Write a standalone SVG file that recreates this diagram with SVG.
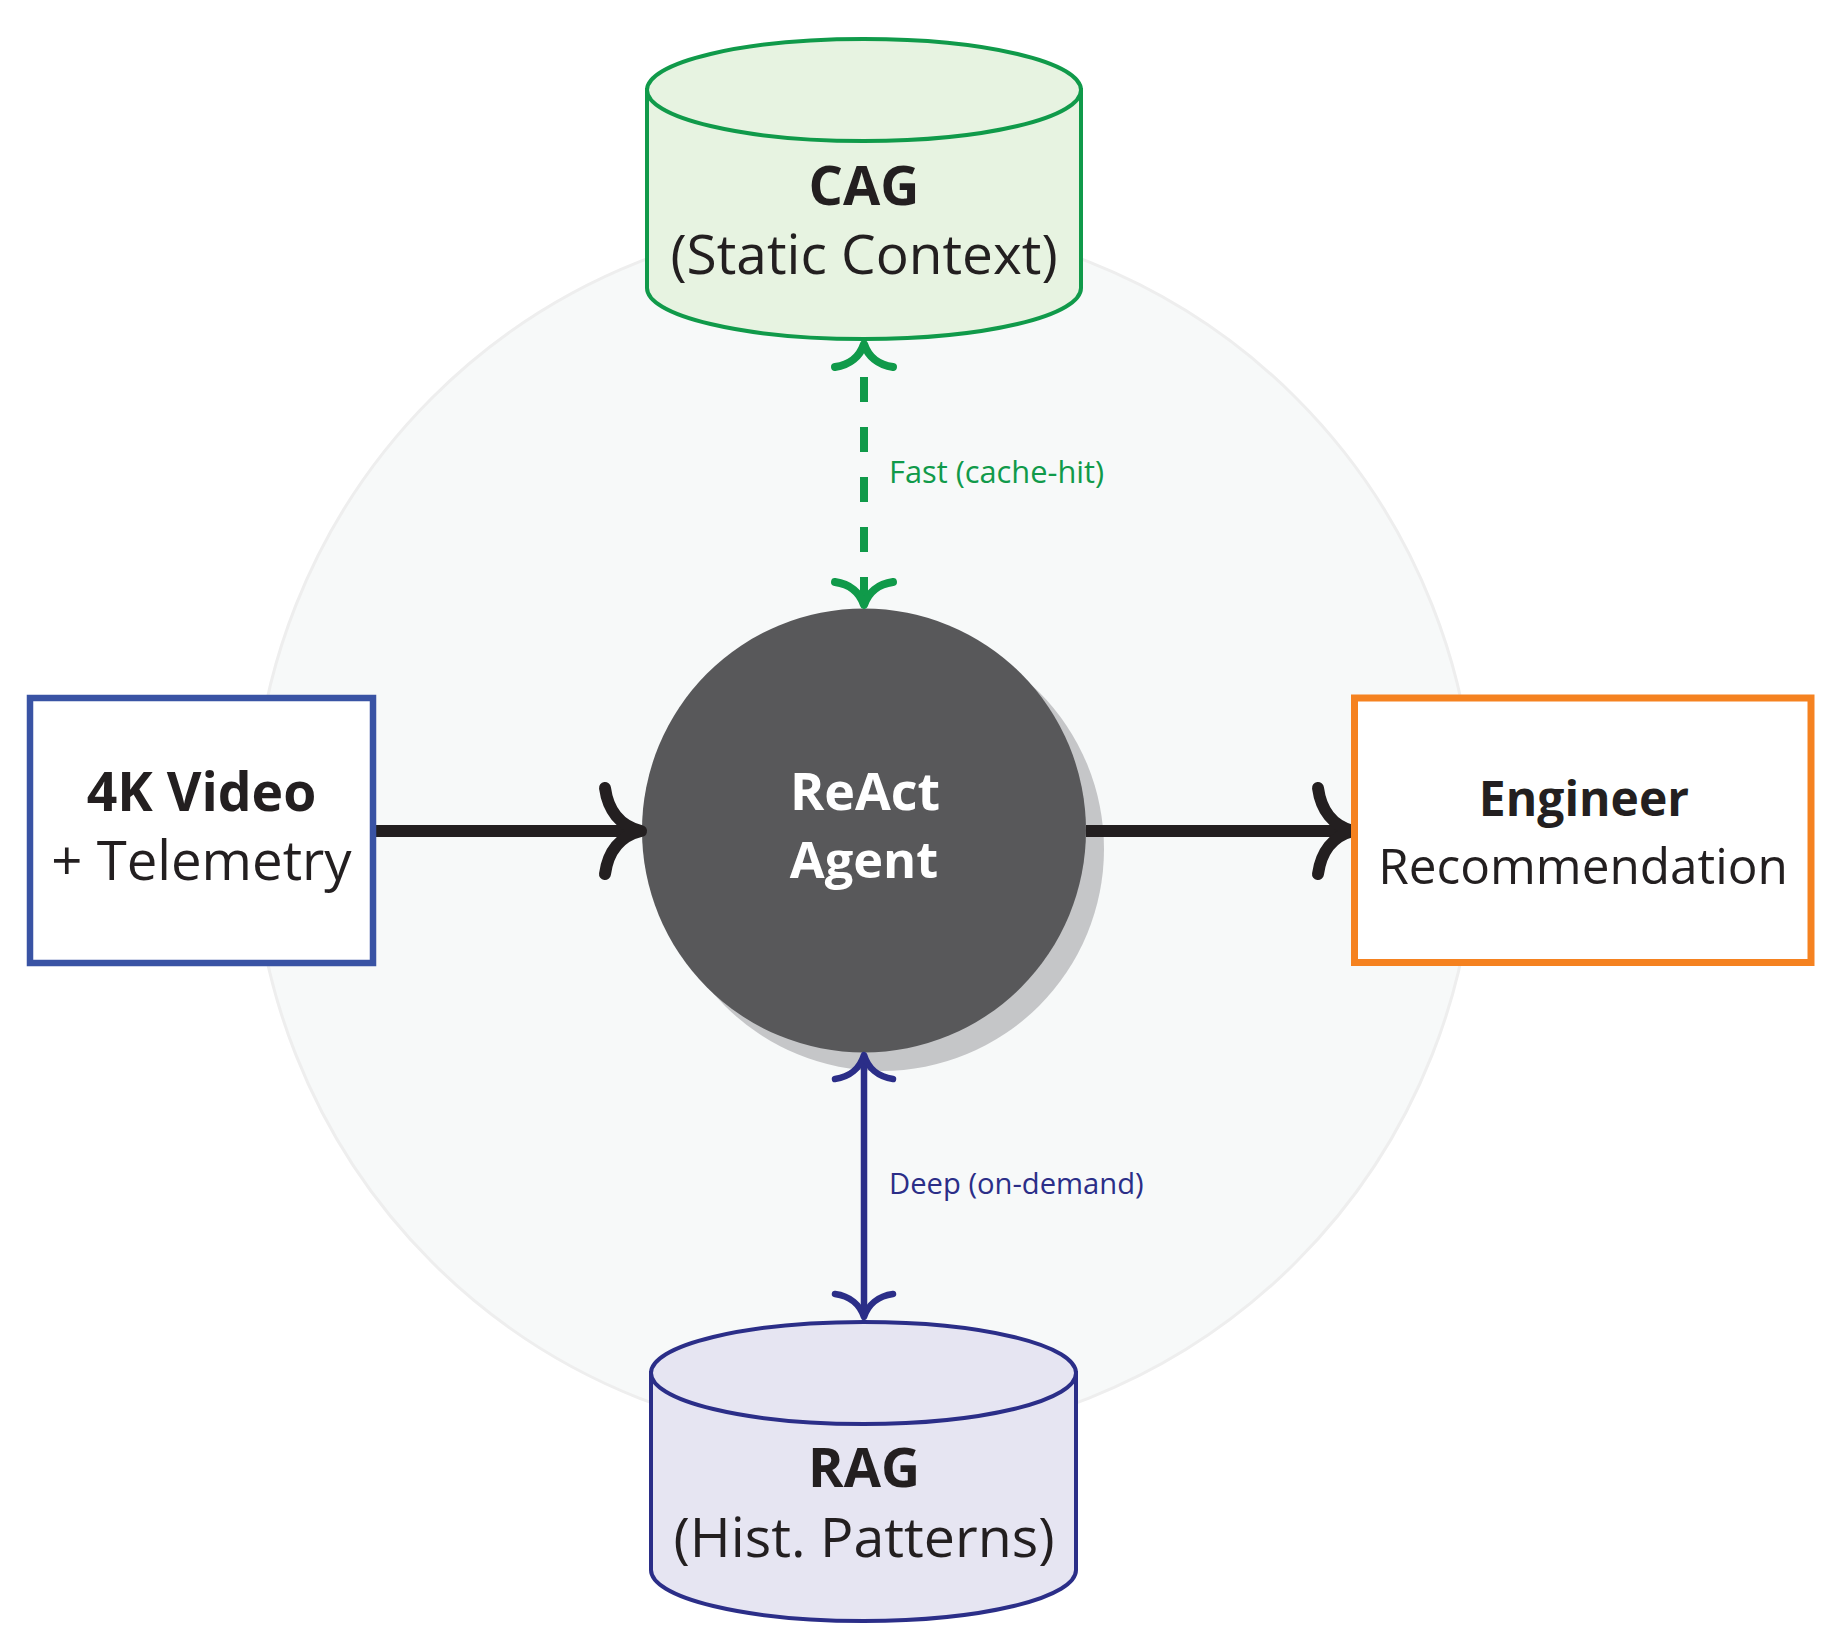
<svg xmlns="http://www.w3.org/2000/svg" width="1837" height="1644" viewBox="0 0 1837 1644">
<style>
.t{font-family:"Open Sans","Liberation Sans",sans-serif;fill:#231f20;text-anchor:middle}
.b{font-weight:bold}
.w{fill:#ffffff}
.lbl{font-family:"Open Sans","Liberation Sans",sans-serif}
.ah{fill:none;stroke-linecap:round;stroke-linejoin:round}
</style>
<rect width="1837" height="1644" fill="#ffffff"/>
<circle id="background" cx="864" cy="830" r="611" fill="#f7f9f9" stroke="#eeeeee" stroke-width="3"/>
<g id="agent">
  <circle cx="882" cy="849" r="222" fill="#c5c6c8"/>
  <circle cx="864" cy="830.5" r="222" fill="#58585a"/>
  <text class="t b w" x="865" y="810" font-size="52">ReAct</text>
  <text class="t b w" x="864" y="878" font-size="50.5">Agent</text>
</g>
<g id="connectors">
  <line x1="376" y1="831" x2="636" y2="831" stroke="#231f20" stroke-width="12"/>
  <path class="ah" d="M605,788 C608,810 620,826 641,831 C620,836 608,852 605,874" stroke="#231f20" stroke-width="12"/>
  <line x1="1086" y1="831" x2="1348" y2="831" stroke="#231f20" stroke-width="12"/>
  <path class="ah" d="M1318,788 C1321,810 1333,826 1353,831 C1333,836 1321,852 1318,874" stroke="#231f20" stroke-width="12"/>
  <line x1="864" y1="377" x2="864" y2="604" stroke="#109a4a" stroke-width="8" stroke-dasharray="25 25"/>
  <path class="ah" d="M835,367 C850,365 860,356 864,344 C868,356 878,365 893,367" stroke="#109a4a" stroke-width="8"/>
  <path class="ah" d="M835,582 C850,584 860,593 864,605 C868,593 878,584 893,582" stroke="#109a4a" stroke-width="8"/>
  <text class="lbl" x="889" y="483" font-size="30.8" fill="#109a4a">Fast (cache-hit)</text>
  <line x1="864" y1="1056" x2="864" y2="1316" stroke="#2b2e88" stroke-width="6.5"/>
  <path class="ah" d="M835,1079 C850,1077 860,1068 864,1055 C868,1068 878,1077 893,1079" stroke="#2b2e88" stroke-width="6.5"/>
  <path class="ah" d="M835,1294 C850,1296 860,1305 864,1317 C868,1305 878,1296 893,1294" stroke="#2b2e88" stroke-width="6.5"/>
  <text class="lbl" x="889" y="1194" font-size="29.2" fill="#2b2e88">Deep (on-demand)</text>
</g>
<g id="cag">
  <path d="M647,90 L647,288 A217,51 0 0 0 1081,288 L1081,90 Z" fill="#e7f3e1" stroke="#109a4a" stroke-width="4"/>
  <ellipse cx="864" cy="90" rx="217" ry="51" fill="#e7f3e1" stroke="#109a4a" stroke-width="4"/>
  <text class="t b" x="864" y="205" font-size="54">CAG</text>
  <text class="t" x="864" y="274" font-size="55">(Static Context)</text>
</g>
<g id="rag">
  <path d="M651,1373 L651,1570 A212.5,51 0 0 0 1076,1570 L1076,1373 Z" fill="#e6e5f2" stroke="#2b2e88" stroke-width="4"/>
  <ellipse cx="863.5" cy="1373" rx="212.5" ry="51" fill="#e6e5f2" stroke="#2b2e88" stroke-width="4"/>
  <text class="t b" x="864" y="1487" font-size="54">RAG</text>
  <text class="t" x="864" y="1557" font-size="55.5">(Hist. Patterns)</text>
</g>
<g id="input">
  <rect x="30" y="698" width="343" height="265" fill="#ffffff" stroke="#3953a4" stroke-width="6.5"/>
  <text class="t b" x="201.5" y="811" font-size="53.5">4K Video</text>
  <text class="t" x="201.5" y="880" font-size="54.5">+ Telemetry</text>
</g>
<g id="output">
  <rect x="1354.5" y="698" width="456.5" height="264.5" fill="#ffffff" stroke="#f58220" stroke-width="7"/>
  <text class="t b" x="1584" y="816" font-size="48">Engineer</text>
  <text class="t" x="1583" y="884" font-size="49.5">Recommendation</text>
</g>
</svg>
